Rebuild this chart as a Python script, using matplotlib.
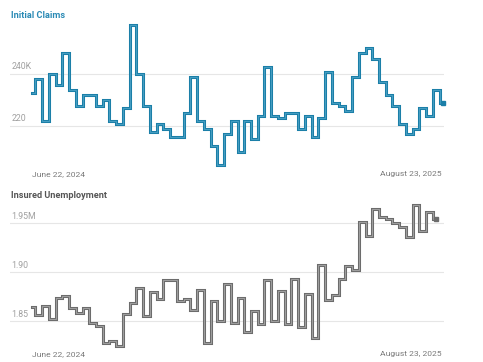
import numpy as np
import pandas as pd
import matplotlib
matplotlib.use("Agg")
import matplotlib.pyplot as plt
import matplotlib.dates as mdates

plt.rcParams['font.family'] = ['Roboto', 'DejaVu Sans']

# weekly data, thousands (initial claims) and millions (insured unemployment)
claims = [232.9, 238.0, 221.9, 240.1, 236.0, 248.1, 233.9, 227.8, 231.9, 231.9,
          227.8, 229.9, 221.8, 220.9, 226.8, 259.1, 240.0, 227.8, 217.8, 220.9,
          218.9, 215.9, 215.9, 224.9, 238.9, 221.8, 218.9, 212.3, 204.8, 216.9,
          221.8, 209.8, 221.8, 214.9, 223.8, 242.9, 223.8, 223.0, 224.9, 224.9,
          218.9, 223.8, 215.9, 223.0, 241.0, 229.0, 227.7, 225.9, 238.9, 248.1,
          250.0, 246.0, 237.1, 232.0, 227.7, 220.7, 216.8, 218.8, 226.8, 223.8,
          233.9, 228.7]
insured = [1.8646, 1.8564, 1.8656, 1.8527, 1.8735, 1.8758, 1.8633, 1.8588, 1.8639, 1.8486,
           1.8455, 1.8279, 1.8302, 1.8251, 1.8578, 1.8684, 1.8837, 1.8554, 1.8799, 1.8724,
           1.8921, 1.8921, 1.8707, 1.8728, 1.8615, 1.8819, 1.8282, 1.8704, 1.8500, 1.8878,
           1.8486, 1.8735, 1.8386, 1.8605, 1.8472, 1.8921, 1.8506, 1.8809, 1.8469, 1.8929,
           1.8442, 1.8776, 1.8327, 1.9078, 1.8717, 1.8768, 1.8929, 1.9067, 1.9020, 1.9513,
           1.9370, 1.9643, 1.9561, 1.9541, 1.9506, 1.9465, 1.9357, 1.9684, 1.9418, 1.9612,
           1.9541]

claims_dates = pd.date_range("2024-06-22", periods=len(claims), freq="7D")
insured_dates = pd.date_range("2024-06-22", periods=len(insured), freq="7D")

W, H = 483, 362
fig = plt.figure(figsize=(W / 100, H / 100), dpi=100)

d0 = mdates.date2num(pd.Timestamp("2024-06-22"))
d1 = mdates.date2num(pd.Timestamp("2025-08-23"))
px_per_day = (443 - 32) / (d1 - d0)
xlim = (d0 - (32 - 10) / px_per_day, d1 + (444 - 443) / px_per_day)


def make_ax(top, bottom):
    return fig.add_axes([10 / W, 1 - bottom / H, (444 - 10) / W, (bottom - top) / H])


def style(ax, ylim, ticks, labels, title, title_color, title_y):
    ax.set_xlim(*xlim)
    ax.set_ylim(*ylim)
    for s in ax.spines.values():
        s.set_visible(False)
    ax.set_xticks([])
    ax.set_yticks([])
    for t, lab in zip(ticks, labels):
        ax.axhline(t, color="#e6e6e6", lw=0.8, zorder=0)
        ax.annotate(lab, (0, t), xycoords=ax.get_yaxis_transform(), xytext=(1, 2),
                    textcoords="offset points", fontsize=6.3, color="#a0a0a0",
                    va="bottom", ha="left")
    fig.text(11 / W, 1 - title_y / H, title, fontsize=6.6, fontweight="bold",
             color=title_color, va="center", ha="left")


def draw(ax, dates, vals, outer, inner, y_lbl):
    x = mdates.date2num(dates)
    ax.plot(x, vals, drawstyle="steps-mid", color=outer, lw=2.2, clip_on=False,
            solid_joinstyle="miter")
    ax.plot(x, vals, drawstyle="steps-mid", color=inner, lw=0.6, clip_on=False,
            solid_joinstyle="miter")
    ax.plot(x[-1], vals[-1], "s", color=outer, ms=3.2, clip_on=False)
    fig.text(32 / W, 1 - y_lbl / H, "June 22, 2024", fontsize=6.1, color="#7a7a7a",
             va="center", ha="left")
    fig.text(442 / W, 1 - y_lbl / H, "August 23, 2025", fontsize=6.1, color="#7a7a7a",
             va="center", ha="right")


# top panel: pixel mapping 240 -> y 74.2, 220 -> y 126
ax1 = make_ax(17, 172)
style(ax1, (202.2, 262.08), [220, 240], ["220", "240K"], "Initial Claims", "#2a8ab5", 15)
draw(ax1, claims_dates, claims, "#1b7fa8", "#4fa3c6", 174)

# bottom panel: 1.95 -> y 223.3, 1.85 -> y 321.3
ax2 = make_ax(198, 350)
style(ax2, (1.8207, 1.9758), [1.85, 1.90, 1.95], ["1.85", "1.90", "1.95M"],
      "Insured Unemployment", "#555555", 196)
draw(ax2, insured_dates, insured, "#6c6c6c", "#a8a8a8", 354)

fig.savefig("out.png", dpi=100)
